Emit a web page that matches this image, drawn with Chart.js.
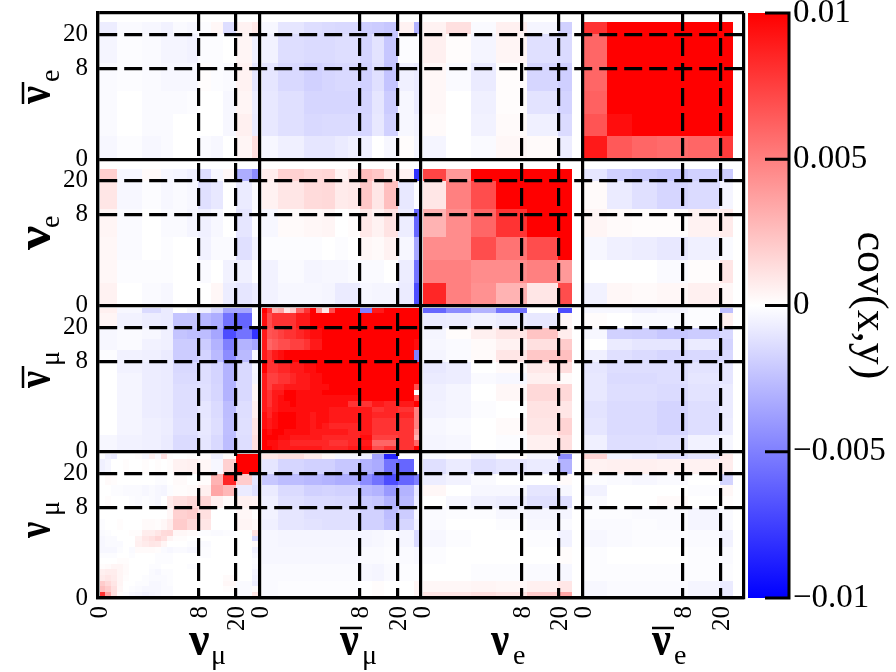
<!DOCTYPE html>
<html><head><meta charset="utf-8">
<style>html,body{margin:0;padding:0;background:#fff}canvas{display:block}</style>
<script src="https://cdn.jsdelivr.net/npm/chart.js@4/dist/chart.umd.js"></script>
</head><body><canvas id="c" width="896" height="672"></canvas>
<script>
const muX=[6,22,38,56,74,92,110,132,152,170,188,208,226,266,301,338,374,414,463,481];
const muY=[8,23,66,100,133,168,203,234,252,269,286,303,320,336,353,370,387,403,420,436];
const muCX=[6,56,132,188,226,266,301,338,374,414,463,481];
const muCY=[8,23,66,100,133,168,203,234,286,336,387,436];
const muFY=[8,23,66,100,133,168,203,234,286,336,387,420,436];
const eX=[5,74,149,224,317,411,452];
const eY=[28,64,150,234,303,370,435];
const blockX=484.5, blockY=438.75;
const xTickRel=[0,301,413], yTickRel=[65,167,438.75];
const xNames=['0','8','20'], yNames=['20','8','0'];

const aeNm=[[-.7,-.2,-.3,-.5,-.2,-.3,-.1,.3,-1.3,.5,.9],[-.4,-.1,-.2,-.4,-.4,-.5,-.1,-.1,0,.4,-.6],[-.2,-.1,-.2,-.3,-.3,-.3,.1,-.1,-.2,.5,-1],[-.2,0,-.2,-.2,-.2,-.1,0,0,-.3,.4,-.7],[-.2,0,-.2,-.2,0,0,0,0,-.3,.6,-.8],[-.3,-.1,-.3,-.2,0,0,-.2,-.3,0,.4,1.3]];
const aeAm=[[-.3,-1,-1.3,-1.4,-1.5,-1.5,-1.9,-2,-2.2,.5,-3],[-.5,-1.3,-1.4,-1.4,-1.3,-1.3,-1.7,-1.1,-2.2,-.1,-.1],[-1,-1.5,-1.8,-1.6,-1.5,-1.5,-1.8,-1.2,-2.3,-.6,-.8],[-.9,-1.2,-1.6,-1.6,-1.6,-1.6,-1.7,-1,-2,-.3,-.8],[-.9,-1.2,-1.5,-1.4,-1.4,-1.4,-1.6,-.9,-1.8,-.3,-.5],[-.3,-.6,-1,-1,-.8,-.6,-.6,0,-.3,.1,-.4]];
const aeNe=[[.5,1.2,-.2,.6,-.4,-1.8],[.6,.1,-.4,.4,-1.2,-1.4],[.3,-.2,-.8,.1,-1.6,-1.9],[.3,0,-.6,.1,-1.1,-1.7],[.2,0,-.5,.2,-.6,-1.4],[-.4,0,-.2,.3,.2,-.7]];
const aeAe=[[8,11,11,11,11,11],[6,11,11,11,11,11],[6,11,11,11,11,11],[6.2,11,11,11,11,11],[6.7,9.5,10.5,11,11,11],[9,6.5,6,5.8,6,7.7]];

const neNm=[[1.9,-.3,.2,-.3,-.4,-.6,-1.3,-.3,.3,-3.2,-4.5],[1,-.3,-.1,-.3,-.2,-.3,-1.2,-.9,0,-.8,-.2],[.4,-.2,0,-.2,-.2,-.4,-.6,-.3,0,-1,-.1],[.3,-.2,0,-.1,0,0,-.5,-.2,-.2,-1.2,-.5],[.3,-.1,-.1,-.1,0,0,-.2,0,-.5,-.6,0],[.5,0,-.2,-.3,0,0,0,.3,-.7,-1,-.7]];
const neAm=[[.7,1.8,1.5,1.6,.5,1,2.6,2.2,1,.5,-8],[.5,1,1.4,1.5,.8,.9,2.2,1,2.5,-.9,-.1],[-.3,.2,.3,.4,0,.1,.9,.5,1.1,-.7,-6],[-.1,-.1,-.1,0,-.1,0,.3,.2,.5,-.3,-3.5],[-.5,-.2,-.4,-.3,-.3,-.2,-.2,-.2,0,-.7,-5.5],[-.5,-.3,-.3,-.4,-.8,-.8,-.3,-.4,-.4,-.8,-7]];
const neNe=[[7.3,4,10,10,10,10],[1,5,7,10,10,10],[3,4.5,6,8,10,10],[4.5,4.5,7,5.5,7,10],[5,5,4.5,4.5,5,4],[8.5,5,4.3,3,1,7]];
const neAe=[[-1,-1.8,-2,-2.2,-1.8,-2],[.2,-.8,-1.2,-1.6,-1.4,-.4],[.4,.2,.1,.1,.5,.8],[-.3,-.6,-.7,-.9,-.6,-.2],[0,0,0,-.2,.1,1],[-.5,.3,.2,.3,.6,.3]];

const amNm=[[.6,-.3,-1.4,-.8,0,-.3,-.6,-1.5,-3.5,-3.5,0],[.4,-.5,-.7,-.8,-2.3,-2.3,-2.8,-3.2,-5.5,-6,0],[-.3,-.2,-.3,-.6,-2.3,-2.5,-2.6,-3.5,-7,-5.5,-8],[-.3,-.2,-.5,-.6,-2,-2,-2,-3,-5,-3,-3.5],[-.1,-.5,-.6,-.8,-2,-2,-1.7,-2.7,-4.5,-2.7,-.3],[0,-.5,-.7,-.8,-1.5,-1.5,-1.3,-1.7,-3,-1.5,-.3],[0,-.4,-.7,-.8,-1.4,-1.4,-1.3,-1.7,-3,-1.5,-.4],[0,-.4,-.7,-.8,-1.3,-1.3,-1.2,-1.6,-3,-1.5,.3],[0,-.4,-.7,-.8,-1.3,-1.3,-1,-1.4,-2.6,-1.3,.6],[0,-.4,-.6,-.7,-1.2,-1.2,-.9,-1.3,-2.5,-1.2,1],[-.3,-.5,-.6,-.8,-1.4,-1.4,-1,-1.5,-2.6,-1.3,1.2]];
const amAm=[
[10,8,3,3.5,1,2,6,8,10,4,1,7,10,10,-5,9,10,10,10],
[9.5,7,8,8,8,8,9,9,10,10,10,10,10,10,10,10,10,10,10],
[9,6.7,7,7.5,8,8,8.5,9,9.5,9.5,10,10,10,10,10,10,10,10,10],
[9,6,6.5,7,7,7.5,7.5,8,9,9,10,10,10,10,10,10,10,10,9.5],
[9,8,9,9.5,10,10,10,10,10,10,10,10,10,10,10,10,10,10,-5],
[10,8,8,8.5,8.5,9,9,9.5,9.5,10,10,10,10,10,10,10,10,10,10],
[9,7.5,7.5,8,8,8.5,9,9,9.5,9.5,10,10,10,10,10,10,10,10,10],
[9,7.5,8.5,8.5,9,9,9,9,9.5,9.5,9.5,10,10,10,10,10,10,10,7],
[9,8,9,9,10,10,9.5,9.5,9.5,9.5,10,10,10,10,10,10,10,10,0],
[9,8,9,9.5,10,10,9.5,9.5,9.5,9.5,9.5,9.5,9.5,9.5,10,10,10,10,7],
[9,8,9,9.5,9.5,10,9.5,9.5,9.5,9.5,9.5,9.5,9.5,8,8,9,8.5,9,10],
[9,8.5,9,9.5,9.5,9.5,9.5,9.5,9.5,9.5,9.5,9,9,9,9,8,8.5,8,5],
[9.5,8.5,9.5,10,10,10,9.5,9.5,9,9.5,9.5,9,9,9,9,8.5,8.5,8.5,5],
[9.5,9,9.5,10,10,10,9.5,9.5,9,9.5,9.5,9,9,9,9,8,8,8,5],
[9.5,9,9.5,10,10,10,9.5,9.5,9,9.5,9,8.5,8.5,8.5,9,8,8,8,5],
[10,9.5,10,10,9.5,9.5,9.5,9.5,9,9,9,9,9,8.5,9,8,8,8,4],
[10,10,10,9.5,9.5,9,9,9,9,9,8.5,8.5,8.5,8.5,9.5,7.5,7.5,8,3],
[10,9.5,9.5,9,9,8.5,8.5,8.5,8.5,8.5,8.5,8,8,8.5,9,6,6,8,6],
[10,10,9.5,9,9,9,9,9,9,9,8.5,8.5,8.5,9,9.5,7,8,8,10]];
const amNe=[[-6,-4.5,-3,-5.5,0,-7],[-.8,-.7,-.5,-.7,-.9,.3],[-.4,.1,.6,1,2.3,.7],[-.3,-.2,.2,.5,1.2,2],[-.4,-.2,.2,1,2.2,2.5],[-.9,-.7,0,.2,.9,1.3],[-.8,-.7,-.2,-.3,.6,.2],[-.6,-.4,0,.3,1.5,1.5],[-.5,-.4,-.1,0,1.1,1],[-.3,-.2,0,.2,1,1.7],[-.4,-.3,0,-.1,.6,1.2]];
const amAe=[[-.3,-.3,-.6,-.4,-.1,-2.5],[.1,0,-.2,-.2,-.1,.6],[-.3,-1.8,-1.9,-2.2,-2,-1.5],[0,-.8,-1,-1,-.8,-1.7],[-.6,-1.2,-1.4,-1.6,-1.5,-1.5],[-1,-1.3,-1.3,-1.3,-1.1,-1],[-.9,-1.4,-1.4,-1.3,-1,-1],[-.9,-1.3,-1.3,-1.4,-1.1,-.8],[-1.1,-1.4,-1.4,-1.7,-1.3,-.8],[-1,-1.4,-1.4,-1.7,-1.3,-.7],[-.6,-1.3,-1.3,-1.2,-.5,-.3]];

const nmNm=[
[-.1,-.6,-.8,0,0,0,.1,-.3,.6,-.2,1.2,.1,0,.1,.2,-.6,.2,10,10],
[-.6,-.4,0,0,.1,0,0,.1,0,.1,0,.1,.5,.6,.3,-.3,1.8,10,10],
[0,.2,.1,0,0,0,0,0,0,-.1,-.1,0,.2,0,.1,3,8.5,2,-1],
[0,0,-.1,-.1,-.2,-.2,-.2,-.3,-.2,-.3,-.4,-.1,.1,.2,.6,3.5,2.8,-.8,-1.2],
[0,.1,0,0,0,-.1,-.2,-.1,-.2,-.3,0,.8,1.2,1.5,1.6,.6,.2,.6,.5],
[0,0,0,0,0,0,0,0,0,0,0,.3,1.8,2,1.2,0,0,.3,0],
[-.1,0,0,.1,0,0,0,.2,.2,.1,.3,.7,2,1.5,1,0,0,.4,.2],
[-.2,-.1,0,0,0,.1,.1,.7,.7,1,1.4,1.5,.3,.2,-.1,-.2,-.1,0,1.2],
[-.3,-.2,-.2,0,0,0,.5,1,1.2,1.6,1.2,.4,.1,0,0,0,0,0,-1.5],
[-.3,-.2,-.2,-.2,0,0,.6,.8,1,.9,.4,0,0,-.1,-.2,0,0,0,.2],
[-.3,-.3,-.3,-.1,0,-.2,.2,.2,.2,.1,-.2,-.3,-.2,-.3,-.1,0,0,0,-.6],
[-.1,-.1,-.1,0,0,-.1,0,0,0,-.1,-.1,-.1,0,0,-.1,0,0,0,-.3],
[0,0,0,.1,.1,0,0,0,0,-.1,-.1,-.1,0,0,0,0,0,0,-.1],
[.1,.2,.4,.4,.2,0,0,0,-.1,-.1,0,0,0,-.1,0,0,0,0,-.2],
[.6,.7,.7,.4,.2,0,0,0,-.2,-.3,-.1,-.1,0,0,0,0,0,0,-.4],
[.8,1,.8,.4,.1,0,0,-.1,-.2,-.2,-.2,-.1,0,0,0,0,.2,0,-.5],
[2,1.5,1,.4,0,0,-.1,-.1,-.3,-.3,-.2,-.1,0,0,0,0,.3,-.2,-.7],
[2.5,2,1.2,.3,0,-.1,-.2,-.3,-.3,-.3,-.2,-.2,0,0,0,0,.1,-.2,.1],
[8,3.5,1.2,.1,-.1,-.3,-.4,-.5,-.4,-.3,-.2,-.2,0,0,0,0,0,-.2,1]];
const nmAm=[[1,1.3,.8,.3,-.3,-.3,-.6,-3.5,-8.5,0,0],[-1,-1.6,-1.8,-1.8,-2.2,-2.2,-3,-3.3,-5.5,-6,0],[-2.2,-2.6,-2.8,-3,-3.2,-3.2,-4.5,-5.5,-7,-6,-5],[-.8,-1.4,-1.8,-1.7,-1.8,-1.8,-2.7,-3,-4,-3,-1],[-.6,-1.2,-1.4,-1.4,-1.5,-1.5,-2,-2.2,-3,-2.7,-.7],[-.5,-1,-1.2,-1.2,-1.2,-1.2,-1.8,-1.8,-2.6,-2,-.3],[-.6,-1,-1.1,-1.2,-1.2,-1.2,-1.8,-1.8,-2.4,-1.6,-.5],[-.3,-.4,-.4,-.4,-.4,-.4,-.4,-.3,-.2,-.4,-1.5],[-.3,-.3,-.3,-.3,-.3,-.3,-.2,-.2,-.1,-.2,-.3],[-.2,-.2,-.2,-.2,-.2,-.2,-.3,-.4,-.2,-.1,-.1],[-.2,-.1,-.1,-.1,-.1,-.1,0,.1,0,0,.4]];
const nmNe=[[-.2,.1,-.6,.1,-.4,-4.5],[-1.2,-.8,-1.2,-1,-.8,-3],[-.7,-.5,-.2,0,0,.2],[.3,0,-.3,-.3,-1,-.3],[0,-.3,-.6,-.7,-1.2,-1.3],[-.2,-.1,-.1,-.3,-.4,-.4],[-.2,0,0,-.1,-.3,-.2],[-.3,-.1,0,0,-.1,-.5],[-.1,0,0,0,0,.1],[0,0,-.1,-.1,-.2,-.3],[.3,.3,.4,.3,.6,1],[1,1,1.2,1,2,3.5]];
const nmAe=[[1.7,-.5,-.7,-1.3,-1,.8],[.5,.6,.6,.5,.5,.7],[-.1,-.2,-.3,-.2,0,-1.7],[-.5,0,0,0,-.1,.3],[-.2,0,0,.2,0,.1],[-.1,-.1,-.2,-.2,-.4,-.2],[-.2,-.2,-.1,-.2,-.4,-.2],[-.3,-.2,-.1,-.1,-.2,-.5],[-.1,0,0,0,-.1,-.2],[-.1,-.1,-.1,-.1,-.1,-.1],[-.3,-.2,-.2,-.2,-.4,-.8]];

const blocks=[
 [aeNm,muCX,eY,0,0],[aeAm,muCX,eY,1,0],[aeNe,eX,eY,2,0],[aeAe,eX,eY,3,0],
 [neNm,muCX,eY,0,1],[neAm,muCX,eY,1,1],[neNe,eX,eY,2,1],[neAe,eX,eY,3,1],
 [amNm,muCX,muCY,0,2],[amAm,muX,muY,1,2],[amNe,eX,muCY,2,2],[amAe,eX,muCY,3,2],
 [nmNm,muX,muY,0,3],[nmAm,muCX,muCY,1,3],[nmNe,eX,muFY,2,3],[nmAe,eX,muCY,3,3]];

const xGroups=[['ν','μ',false,1.35],['ν','μ',true,1.24],['ν','e',false,1.2],['ν','e',true,1.24]];
const xGroupPos=[273,726,1179,1662];
const yGroups=[['ν','e',true,1.18],['ν','e',false,1.6],['ν','μ',true,1.12],['ν','μ',false,1.07]];
const yGroupPos=[273,711,1125,1575];

const cells=[];
blocks.forEach(([m,xs,ys,cx,cy])=>m.forEach((row,r)=>row.forEach((v,c)=>{
  if(v!==0) cells.push({x0:cx*blockX+xs[c],x1:cx*blockX+xs[c+1],y0:cy*blockY+ys[r],y1:cy*blockY+ys[r+1],v});
})));

function col(v){const t=Math.min(1,Math.abs(v)/10),g=Math.round(255*(1-t));return v>0?`rgb(255,${g},${g})`:`rgb(${g},${g},255)`;}
const SERIF='"Liberation Serif"';
const noPad=s=>{s.paddingTop=s.paddingBottom=s.paddingLeft=s.paddingRight=0;};

const heat={id:'heat',beforeDatasetsDraw(ch){
  const {ctx,scales:{x,y,cb}}=ch;
  ctx.save();
  cells.forEach(c=>{
    const a=Math.round(x.getPixelForValue(c.x0)),b=Math.round(x.getPixelForValue(c.x1));
    const d=Math.round(y.getPixelForValue(c.y0)),e=Math.round(y.getPixelForValue(c.y1));
    ctx.fillStyle=col(c.v);ctx.fillRect(a,d,b-a,e-d);
  });
  const top=cb.getPixelForValue(0.01),bot=cb.getPixelForValue(-0.01),mid=cb.getPixelForValue(0);
  const g=ctx.createLinearGradient(0,top,0,bot);
  g.addColorStop(0,'#f00');g.addColorStop((mid-top)/(bot-top),'#fff');g.addColorStop(1,'#00f');
  ctx.fillStyle=g;ctx.fillRect(748,top,41,bot-top);
  ctx.restore();
},afterDraw(ch){
  const {ctx,scales:{x,y,cb}}=ch;
  ctx.save();ctx.strokeStyle='#000';ctx.lineWidth=3;
  const top=cb.getPixelForValue(0.01),bot=cb.getPixelForValue(-0.01);
  ctx.beginPath();ctx.moveTo(789,top-1.5);ctx.lineTo(789,bot+1.5);
  cb.ticks.forEach(t=>{const p=cb.getPixelForValue(t.value);ctx.moveTo(765,p);ctx.lineTo(789,p);});
  ctx.stroke();
  ctx.fillStyle='#000';
  const grp=(g,rot,px,py)=>{
    ctx.save();ctx.translate(px,py);if(rot)ctx.rotate(-Math.PI/2);
    ctx.textBaseline='alphabetic';ctx.textAlign='left';
    ctx.save();ctx.scale(g[3],1.45);ctx.font=`bold 34px ${SERIF}`;ctx.fillText(g[0],0,0);ctx.restore();
    ctx.font=`28px ${SERIF}`;ctx.fillText(g[1],22,8.5);
    if(g[2]){ctx.lineWidth=2.5;ctx.beginPath();ctx.moveTo(0,-27);ctx.lineTo(22,-27);ctx.stroke();}
    ctx.restore();
  };
  xGroups.forEach((g,i)=>grp(g,false,x.getPixelForValue(xGroupPos[i]),x.top+57));
  yGroups.forEach((g,i)=>grp(g,true,50,y.getPixelForValue(yGroupPos[i])));
  ctx.restore();
}};

const xTicks=[],yTicks=[],xLab=new Map(),yLab=new Map();
for(let b=0;b<4;b++){
  xTickRel.forEach((r,i)=>{const v=b*blockX+r;xTicks.push(v);xLab.set(v,xNames[i]);});
  yTickRel.forEach((r,i)=>{const v=b*blockY+r;yTicks.push(v);yLab.set(v,yNames[i]);});
}
xTicks.push(4*blockX);yTicks.unshift(0);
const solidX=v=>xLab.get(v)==='0'||v===4*blockX, solidY=v=>yLab.get(v)==='0'||v===0;

new Chart(document.getElementById('c'),{
 type:'scatter',
 data:{datasets:[{label:'cov(x,y)',data:cells.map(c=>({x:(c.x0+c.x1)/2,y:(c.y0+c.y1)/2,v:c.v})),pointRadius:0,pointHoverRadius:0,showLine:false}]},
 plugins:[heat],
 options:{responsive:false,animation:false,devicePixelRatio:1,events:[],
  layout:{padding:{left:0,right:0,top:13,bottom:0}},
  plugins:{legend:{display:false},tooltip:{enabled:false}},
  scales:{
   x:{type:'linear',min:0,max:4*blockX,position:'bottom',
    afterBuildTicks:s=>{s.ticks=xTicks.map(v=>({value:v}));},
    afterFit:s=>{s.height=74;noPad(s);},
    ticks:{autoSkip:false,maxRotation:90,minRotation:90,padding:8,labelOffset:2,color:'#000',font:{family:SERIF,size:25},callback:v=>xLab.get(v)??''},
    grid:{z:1,color:'#000',lineWidth:3.2,drawTicks:false},
    border:{z:1,color:'#000',width:3.2,dash:c=>c.tick&&!solidX(c.tick.value)?[18,7]:[]}},
   y:{type:'linear',min:0,max:4*blockY,reverse:true,position:'left',
    afterBuildTicks:s=>{s.ticks=yTicks.map(v=>({value:v}));},
    afterFit:s=>{s.width=98;noPad(s);},
    ticks:{autoSkip:false,padding:10,color:'#000',font:{family:SERIF,size:25},callback:v=>yLab.get(v)??''},
    grid:{z:1,color:'#000',lineWidth:3.2,drawTicks:false},
    border:{z:1,color:'#000',width:3.2,dash:c=>c.tick&&!solidY(c.tick.value)?[18,7]:[]}},
   cb:{type:'linear',min:-0.01,max:0.01,position:'right',
    afterFit:s=>{s.width=152;noPad(s);},
    ticks:{stepSize:0.005,padding:49,color:'#000',font:{family:SERIF,size:33},
     callback:v=>{const a=Math.abs(v)<1e-9?0:v;return (a<0?'\u2212':'')+String(+Math.abs(a).toFixed(3));}},
    grid:{display:false,drawTicks:false},border:{display:false},
    title:{display:true,text:'cov(x,y)',color:'#000',font:{family:SERIF,size:44},padding:{top:0,bottom:32}}}
  }}
});
</script></body></html>
